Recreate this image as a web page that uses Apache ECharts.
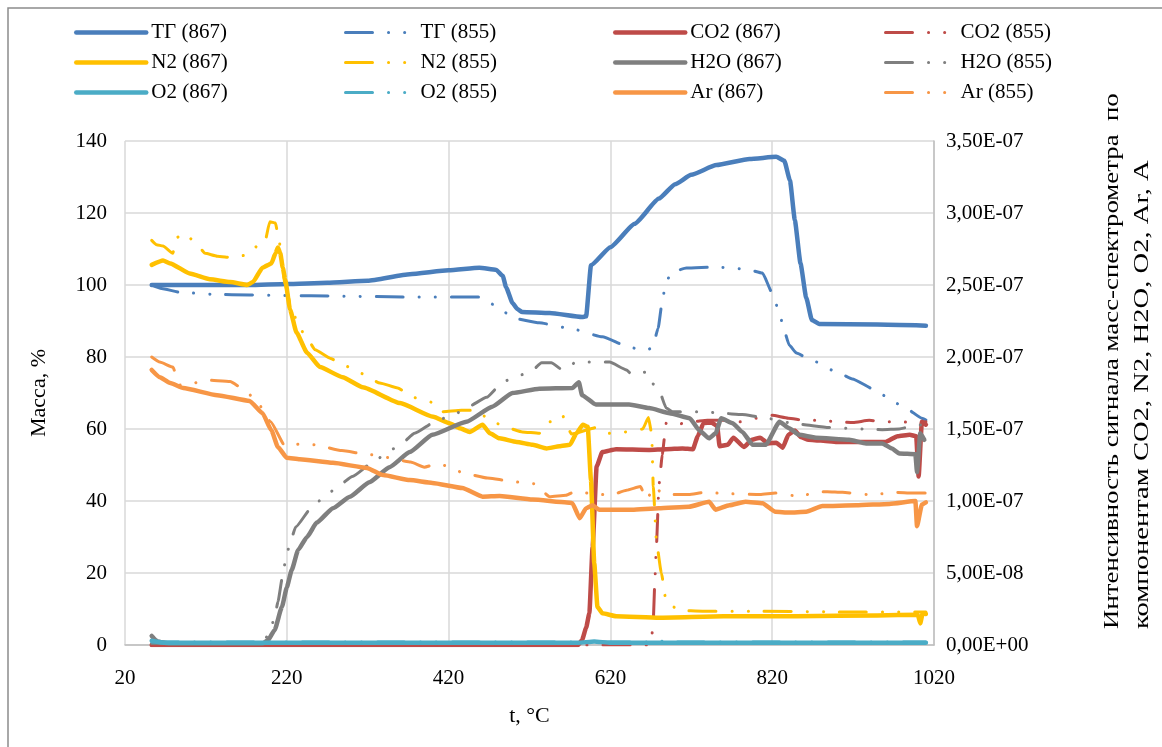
<!DOCTYPE html>
<html>
<head>
<meta charset="utf-8">
<script src="https://cdn.jsdelivr.net/npm/echarts@6/dist/echarts.min.js"></script>
<style>
html, body { margin: 0; padding: 0; background: #fff; }
#chart { width: 1162px; height: 747px; }
</style>
</head>
<body>
<div id="chart"></div>
<script>
// масса, % (левая ось)
const tg867 = [[53,100],[100,100],[174,100],[220,100.3],[270,100.6],[320,101.2],[372,103],[420,104.1],[458,104.8],[479,104.2],[487,102.5],[491,99.4],[499,95],[505,93.3],[511,92.5],[545,92.2],[585,91.1],[590,91.3],[596,105.5],[620,110.5],[650,117],[680,124],[700,128],[720,130.6],[751,133.3],[792,135],[825,135.6],[835,134.5],[842,129],[848,118],[855,106],[862,96.5],[869,90.3],[878,89.2],[950,89],[1010,88.7]];
const tg855 = [[53,100],[65,99],[88,98],[130,97.4],[174,97.2],[250,97],[363,96.7],[458,96.7],[467,95.5],[483,93.6],[499,90.8],[532,89.5],[573,87.8],[610,85.6],[643,82.8],[662,81.7],[672,82.5],[679,88],[684,95.3],[688,100],[695,103.6],[714,104.7],[751,105],[788,104.4],[808,103.3],[820,97.8],[829,92.2],[834,88],[841,83.3],[850,81.1],[866,79.4],[903,75.5],[919,73.9],[948,70.8],[968,67.8],[985,65.8],[1005,63],[1010,62.5]];

// интенсивность сигнала, ×1E-07 (правая ось)
const co2867 = [[53,0],[300,0],[580,0],[585,0.035],[590,0.12],[594,0.22],[598,0.68],[603,1.24],[610,1.34],[627,1.36],[668,1.355],[689,1.36],[709,1.365],[722,1.36],[728,1.45],[735,1.54],[745,1.545],[752,1.52],[755,1.38],[765,1.39],[772,1.44],[785,1.375],[795,1.425],[805,1.44],[815,1.4],[825,1.405],[833,1.37],[840,1.46],[848,1.49],[855,1.445],[865,1.425],[880,1.42],[900,1.41],[940,1.41],[960,1.41],[975,1.45],[990,1.46],[998,1.45],[1001,1.17],[1005,1.55],[1010,1.53]];
const co2855 = [[53,0],[400,0],[668,0],[671,0.05],[673,0.17],[675,0.45],[677,0.7],[680,1.1],[682,1.22],[684,1.32],[689,1.54],[700,1.53],[720,1.55],[740,1.56],[760,1.56],[780,1.55],[800,1.575],[820,1.595],[840,1.575],[860,1.56],[880,1.56],[900,1.55],[920,1.545],[940,1.56],[960,1.55],[980,1.55],[1000,1.54],[1010,1.55]];
const n2867 = [[53,2.64],[67,2.67],[76,2.65],[100,2.58],[125,2.54],[150,2.52],[171,2.5],[178,2.52],[190,2.62],[201,2.65],[206,2.72],[209,2.76],[212,2.72],[215,2.62],[218,2.54],[224,2.33],[232,2.17],[245,2.03],[261,1.93],[289,1.86],[314,1.79],[360,1.68],[401,1.585],[421,1.54],[434,1.505],[446,1.48],[462,1.53],[471,1.47],[483,1.435],[504,1.41],[524,1.39],[541,1.365],[557,1.38],[570,1.39],[578,1.47],[586,1.53],[592,1.515],[596,1.145],[600,0.57],[604,0.265],[610,0.22],[627,0.2],[680,0.19],[760,0.2],[850,0.2],[950,0.205],[1000,0.21],[1003,0.15],[1006,0.22],[1010,0.215]];
const n2855 = [[53,2.81],[59,2.78],[67,2.77],[79,2.72],[84,2.83],[94,2.86],[109,2.78],[119,2.72],[134,2.7],[153,2.69],[172,2.71],[187,2.79],[193,2.8],[199,2.94],[206,2.93],[210,2.82],[218,2.5],[226,2.33],[236,2.2],[245,2.13],[255,2.05],[274,1.99],[292,1.94],[310,1.89],[335,1.82],[357,1.785],[376,1.72],[397,1.69],[411,1.62],[436,1.63],[455,1.63],[471,1.56],[492,1.51],[511,1.48],[532,1.47],[545,1.55],[560,1.6],[572,1.465],[603,1.51],[619,1.47],[641,1.48],[660,1.5],[667,1.58],[671,1.47],[673,1.1],[677,0.71],[683,0.5],[689,0.3],[705,0.24],[734,0.235],[800,0.235],[900,0.23],[1010,0.23]];
const h2o867 = [[53,0.0625],[60,0.025],[75,0.01],[190,0.01],[197,0.035],[205,0.105],[214,0.265],[220,0.4],[226,0.52],[234,0.66],[245,0.75],[257,0.85],[277,0.95],[298,1.03],[322,1.13],[347,1.235],[372,1.34],[400,1.46],[442,1.55],[474,1.655],[499,1.75],[532,1.78],[573,1.785],[581,1.825],[585,1.735],[602,1.67],[643,1.67],[668,1.645],[693,1.61],[718,1.575],[730,1.49],[742,1.435],[750,1.47],[757,1.575],[771,1.54],[783,1.48],[796,1.39],[812,1.39],[829,1.55],[841,1.505],[853,1.46],[874,1.44],[915,1.425],[936,1.4],[956,1.4],[968,1.365],[977,1.33],[997,1.325],[999,1.2],[1003,1.47],[1008,1.425]];
const h2o855 = [[53,0.01],[190,0.01],[198,0.08],[205,0.19],[209,0.3],[215,0.485],[219,0.605],[224,0.71],[231,0.82],[252,0.965],[268,1.035],[284,1.105],[301,1.17],[329,1.28],[345,1.34],[362,1.4],[378,1.47],[406,1.56],[427,1.6],[443,1.65],[467,1.72],[487,1.825],[501,1.86],[521,1.895],[535,1.96],[547,1.96],[561,1.91],[578,1.965],[598,1.965],[619,1.965],[640,1.91],[647,1.875],[664,1.895],[668,1.84],[680,1.77],[689,1.645],[697,1.62],[734,1.62],[757,1.61],[783,1.6],[808,1.58],[850,1.535],[890,1.51],[932,1.5],[956,1.495],[977,1.5],[1000,1.53],[1010,1.52]];
const o2867 = [[53,0.03],[70,0.015],[300,0.015],[580,0.015],[600,0.025],[620,0.015],[1010,0.015]];
const o2855 = [[53,0.02],[400,0.02],[680,0.02],[689,0.035],[700,0.02],[1010,0.02]];
const ar867 = [[53,1.91],[63,1.86],[76,1.82],[92,1.785],[134,1.735],[174,1.695],[190,1.61],[201,1.49],[209,1.375],[220,1.3],[236,1.29],[277,1.265],[319,1.23],[339,1.18],[372,1.145],[400,1.125],[437,1.09],[462,1.03],[483,1.035],[524,1.01],[566,0.99],[573,0.985],[582,0.88],[590,0.95],[598,0.97],[606,0.94],[647,0.94],[680,0.95],[717,0.96],[742,0.995],[750,0.94],[767,0.97],[787,0.995],[808,0.985],[824,0.925],[841,0.92],[862,0.925],[882,0.965],[924,0.97],[965,0.98],[997,1.0],[999,0.825],[1005,0.975],[1010,0.99]];
const ar855 = [[53,2.0],[63,1.965],[79,1.93],[88,1.805],[106,1.82],[119,1.84],[150,1.83],[167,1.775],[182,1.7],[200,1.55],[218,1.38],[236,1.395],[255,1.39],[288,1.35],[319,1.325],[338,1.31],[357,1.285],[373,1.27],[390,1.235],[407,1.26],[425,1.23],[437,1.195],[468,1.16],[488,1.145],[508,1.13],[526,1.12],[545,1.03],[565,1.04],[578,1.07],[592,1.055],[620,1.04],[640,1.075],[657,1.1],[665,1.01],[674,1.1],[685,1.05],[699,1.045],[717,1.045],[736,1.06],[767,1.05],[805,1.045],[824,1.055],[857,1.03],[870,1.06],[888,1.065],[907,1.06],[938,1.045],[955,1.05],[973,1.06],[993,1.055],[1010,1.055]];

const xTicks = [20, 220, 420, 620, 820, 1020];

const font = 'Liberation Serif';
const dash = [27, 16, 0.1, 16, 0.1, 16];

function e7(arr) {
    return arr.map(p => [p[0], p[1] * 1e-7]);
}

function mk(name, data, color, yIdx, dashed) {
    return {
        name: name,
        type: 'line',
        yAxisIndex: yIdx,
        data: yIdx === 1 ? e7(data) : data,
        symbol: 'none',
        smooth: 0.15,
        smoothMonotone: 'x',
        animation: false,
        lineStyle: dashed
            ? { color: color, width: 3, type: dash, cap: 'round' }
            : { color: color, width: 4.5, cap: 'round', join: 'round' },
        itemStyle: { color: color }
    };
}

function sciLabel(v) {
    let s = v.toExponential(2);
    let m = s.split('e')[0].replace('.', ',');
    let ex = parseInt(s.split('e')[1], 10);
    let sign = ex < 0 ? '-' : '+';
    let a = Math.abs(ex);
    return m + 'E' + sign + (a < 10 ? '0' + a : a);
}

const blue = '#4a7ebb', red = '#be4b48', yellow = '#ffc000',
      gray = '#7f7f7f', teal = '#4bacc6', orange = '#f79646';

let myChart = echarts.init(document.getElementById('chart'));

const legendBase = {
    orient: 'vertical',
    top: 17,
    itemGap: 9,
    itemWidth: 70,
    itemHeight: 14,
    selectedMode: false,
    itemStyle: { opacity: 0 },
    lineStyle: { width: 'inherit' },
    textStyle: { fontFamily: font, fontSize: 21, color: '#000' }
};

myChart.setOption({
    backgroundColor: '#fff',
    animation: false,
    graphic: [
        {
            type: 'rect',
            shape: { x: 8, y: 8, width: 1170, height: 760 },
            style: { fill: 'none', stroke: '#8c8c8c', lineWidth: 1.5 },
            silent: true
        },
        {
            type: 'text',
            x: 1112, y: 629,
            rotation: Math.PI / 2,
            scaleX: 1.22,
            style: {
                text: 'Интенсивность сигнала масс-спектрометра  по',
                fontFamily: font, fontSize: 22, fill: '#000',
                align: 'left', verticalAlign: 'middle'
            }
        },
        {
            type: 'text',
            x: 1142, y: 629,
            rotation: Math.PI / 2,
            scaleX: 1.3,
            style: {
                text: 'компонентам CO2, N2, H2O, O2, Ar, A',
                fontFamily: font, fontSize: 22, fill: '#000',
                align: 'left', verticalAlign: 'middle'
            }
        }
    ],
    legend: [
        Object.assign({ left: 69, data: ['ТГ (867)', 'N2 (867)', 'O2 (867)'] }, legendBase),
        Object.assign({ left: 339, data: ['ТГ (855)', 'N2 (855)', 'O2 (855)'] }, legendBase),
        Object.assign({ left: 608, data: ['CO2 (867)', 'H2O (867)', 'Ar (867)'] }, legendBase),
        Object.assign({ left: 879, data: ['CO2 (855)', 'H2O (855)', 'Ar (855)'] }, legendBase)
    ],
    grid: { left: 125, right: 228, top: 141, bottom: 102, containLabel: false },
    xAxis: {
        type: 'value',
        min: xTicks[0],
        max: xTicks[xTicks.length - 1],
        interval: 200,
        name: 't, °C',
        nameLocation: 'middle',
        nameGap: 60,
        nameTextStyle: { fontFamily: font, fontSize: 22, color: '#000' },
        axisLine: { show: true, lineStyle: { color: '#bfbfbf', width: 1.5 } },
        axisTick: { show: false },
        axisLabel: { fontFamily: font, fontSize: 21, color: '#000', margin: 23, formatter: v => String(v) },
        splitLine: { show: true, lineStyle: { color: '#d9d9d9', width: 1.5 } }
    },
    yAxis: [
        {
            type: 'value',
            min: 0,
            max: 140,
            interval: 20,
            name: 'Масса, %',
            nameLocation: 'middle',
            nameRotate: 90,
            nameGap: 75,
            nameTextStyle: { fontFamily: font, fontSize: 22, color: '#000' },
            axisLine: { show: false },
            axisTick: { show: false },
            axisLabel: { fontFamily: font, fontSize: 21, color: '#000', margin: 18 },
            splitLine: { show: true, lineStyle: { color: '#d9d9d9', width: 1.5 } }
        },
        {
            type: 'value',
            position: 'right',
            min: 0,
            max: 3.5e-7,
            interval: 5e-8,
            axisLine: { show: true, lineStyle: { color: '#bfbfbf', width: 1.5 } },
            axisTick: { show: false },
            axisLabel: { fontFamily: font, fontSize: 21, color: '#000', margin: 12, formatter: sciLabel },
            splitLine: { show: false }
        }
    ],
    series: [
        mk('ТГ (867)', tg867, blue, 0, false),
        mk('ТГ (855)', tg855, blue, 0, true),
        mk('CO2 (867)', co2867, red, 1, false),
        mk('CO2 (855)', co2855, red, 1, true),
        mk('N2 (867)', n2867, yellow, 1, false),
        mk('N2 (855)', n2855, yellow, 1, true),
        mk('H2O (867)', h2o867, gray, 1, false),
        mk('H2O (855)', h2o855, gray, 1, true),
        mk('O2 (867)', o2867, teal, 1, false),
        mk('O2 (855)', o2855, teal, 1, true),
        mk('Ar (867)', ar867, orange, 1, false),
        mk('Ar (855)', ar855, orange, 1, true)
    ]
});

window.addEventListener('resize', () => {
    myChart.resize()
})
</script>
</body>
</html>
